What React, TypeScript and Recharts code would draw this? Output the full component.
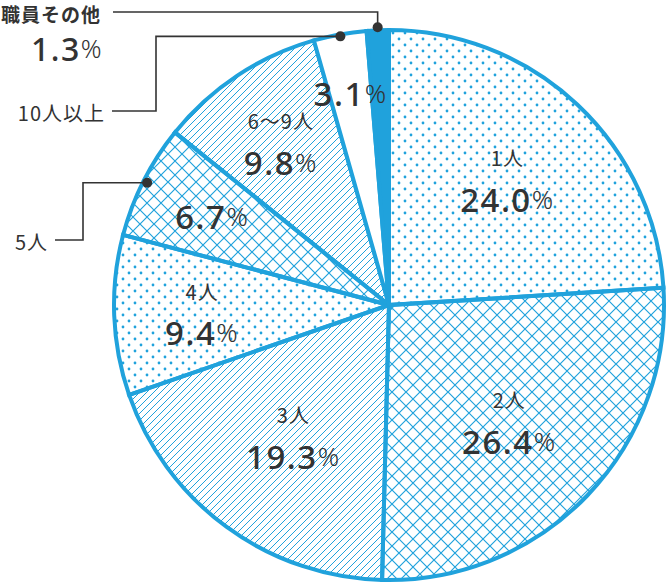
import { PieChart, Pie, Cell } from 'recharts';

const names = ['1人', '2人', '3人', '4人', '5人', '6〜9人', '10人以上', '職員その他'];
const shares = [24.0, 26.4, 19.3, 9.4, 6.7, 9.8, 3.1, 1.3];

const BLUE = '#20a2dc';
const INK = '#333333';
const fills = [
  'url(#dots)',
  'url(#cross)',
  'url(#diag)',
  'url(#dots)',
  'url(#cross)',
  'url(#diag)',
  '#ffffff',
  BLUE,
];

// distance of the inside label from the centre, per slice
const labelRadius = [173, 167, 162, 187, 198, 196, 215, 0];

const data = names.map((name, i) => ({ name, value: shares[i] }));

const RAD = Math.PI / 180;
const numFont = '"Noto Sans", "DejaVu Sans", sans-serif';
const jpFont = '"Noto Sans CJK JP", "Noto Sans", sans-serif';

function Pct({ x, y, value, size = 33, anchor = 'middle' }: { x: number; y: number; value: number; size?: number; anchor?: string }) {
  return (
    <text x={x} y={y} textAnchor={anchor} dominantBaseline="central" fill={INK} fontFamily={numFont} letterSpacing={1.5}>
      <tspan fontSize={size} fontWeight={500}>{value.toFixed(1)}</tspan>
      <tspan fontSize={size * 0.8} fontWeight={300}>%</tspan>
    </text>
  );
}

function Name({ x, y, text, anchor = 'middle', size = 20, bold = false }: { x: number; y: number; text: string; anchor?: string; size?: number; bold?: boolean }) {
  return (
    <text x={x} y={y} textAnchor={anchor} dominantBaseline="central" fill={INK}
      fontFamily={jpFont} fontSize={size} fontWeight={bold ? 700 : 400} letterSpacing={1}>{text}</text>
  );
}

function Leader({ pts }: { pts: [number, number][] }) {
  const dot = pts[0];
  return (
    <g>
      <polyline points={pts.map((p) => p.join(',')).join(' ')} fill="none" stroke={INK} strokeWidth={1.6} />
      <circle cx={dot[0]} cy={dot[1]} r={5} fill={INK} />
    </g>
  );
}

function renderLabel(props: any) {
  const { cx, cy, midAngle, outerRadius, index } = props;
  const value = shares[index];
  const at = (r: number): [number, number] => [
    cx + r * Math.cos(-midAngle * RAD),
    cy + r * Math.sin(-midAngle * RAD),
  ];
  const name = names[index];

  if (index === 7) {
    const d = at(outerRadius + 3);
    return (
      <g>
        <Leader pts={[d, [d[0], 12], [113, 12]]} />
        <Name x={101} y={13} text={name} anchor="end" size={19} bold />
        <Pct x={103} y={48} value={value} size={32} anchor="end" />
      </g>
    );
  }

  const [lx, ly] = at(labelRadius[index]);

  if (index === 6) {
    const d = at(outerRadius - 2);
    return (
      <g>
        <Leader pts={[d, [156, d[1]], [156, 111], [112, 111]]} />
        <Name x={105} y={112} text={name} anchor="end" />
        <Pct x={lx} y={ly} value={value} />
      </g>
    );
  }

  if (index === 4) {
    const d = at(outerRadius - 4);
    return (
      <g>
        <Leader pts={[d, [83, d[1]], [83, 240], [55, 240]]} />
        <Name x={48} y={241} text={name} anchor="end" />
        <Pct x={lx} y={ly} value={value} />
      </g>
    );
  }

  return (
    <g>
      <Name x={lx} y={ly - 21} text={name} />
      <Pct x={lx} y={ly + 20} value={value} />
    </g>
  );
}

export default function App() {
  return (
    <div style={{ position: 'absolute', left: 0, top: 0, width: 667, height: 584, background: '#fff' }}>
      <svg width={0} height={0} style={{ position: 'absolute' }}>
        <defs>
          <pattern id="dots" patternUnits="userSpaceOnUse" width={12} height={12}>
            <circle cx={3} cy={3} r={1.4} fill={BLUE} />
            <circle cx={9} cy={9} r={1.4} fill={BLUE} />
          </pattern>
          <pattern id="cross" patternUnits="userSpaceOnUse" width={14} height={14}>
            <path d="M0,0 L14,14 M14,0 L0,14" stroke={BLUE} strokeWidth={1.2} />
          </pattern>
          <pattern id="diag" patternUnits="userSpaceOnUse" width={7} height={7}>
            <path d="M0,7 L7,0 M-1,1 L1,-1 M6,8 L8,6" stroke={BLUE} strokeWidth={1} />
          </pattern>
        </defs>
      </svg>
      <PieChart width={667} height={584} margin={{ top: 0, right: 0, bottom: 0, left: 0 }}>
        <Pie
          data={data}
          dataKey="value"
          nameKey="name"
          cx={389}
          cy={305}
          outerRadius={275}
          startAngle={90}
          endAngle={-270}
          label={renderLabel}
          labelLine={false}
          isAnimationActive={false}
        >
          {data.map((d, i) => (
            <Cell key={d.name} fill={fills[i]} stroke={BLUE} strokeWidth={4} />
          ))}
        </Pie>
      </PieChart>
    </div>
  );
}
